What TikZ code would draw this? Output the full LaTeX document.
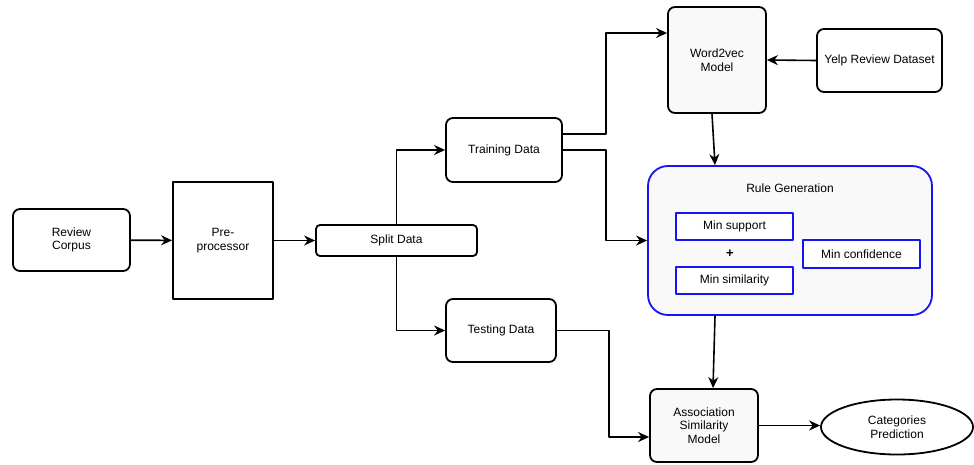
\documentclass[tikz,border=0pt]{standalone}
\usepackage{fontspec}
\setmainfont{Liberation Sans}
\usetikzlibrary{arrows.meta,shapes.geometric}
\definecolor{boxgray}{RGB}{249,249,249}
\definecolor{ruleblue}{RGB}{20,20,245}
\begin{document}
\begin{tikzpicture}[x=1pt,y=-1pt,line cap=round,line join=round,
  font=\fontsize{12}{13.5}\selectfont,
  box/.style={draw,line width=1.8pt,rounded corners=7pt,fill=white,inner sep=0pt,align=center},
  bluebox/.style={draw=ruleblue,line width=1.8pt,fill=white,inner sep=0pt,align=center,
    minimum width=117pt,minimum height=27pt},
  arr/.style={line width=1.6pt,-{Stealth[length=11pt,width=10pt]}}]
  \useasboundingbox (0,0) rectangle (974,464);

  % The input side: corpus, pre-processing and the split.
  \node[box,minimum width=117pt,minimum height=62pt] (corpus) at (71.5,240) {Review\\Corpus};
  \node[box,rounded corners=0pt,minimum width=100pt,minimum height=117pt] (prep) at (223,240.5) {Pre-\\processor};
  \node[box,rounded corners=4pt,minimum width=161pt,minimum height=31pt] (split) at (396.5,240.5) {Split Data};
  \node[box,minimum width=116pt,minimum height=64pt] (train) at (504,150) {Training Data};
  \node[box,minimum width=110pt,minimum height=63pt] (test) at (501,330.5) {Testing Data};

  % The embedding model and its outside dataset.
  \node[box,fill=boxgray,minimum width=98pt,minimum height=106pt] (w2v) at (717,60) {Word2vec\\Model};
  \node[box,minimum width=125pt,minimum height=63pt] (yelp) at (879.5,60.5) {Yelp Review Dataset};

  % The rule generation block with its three thresholds.
  \node[box,draw=ruleblue,fill=boxgray,rounded corners=20pt,minimum width=284pt,minimum height=149pt] (rule) at (790,240.5) {};
  \node (rulelabel) at (790,188) {Rule Generation};
  \node[bluebox] (minsup) at (734.5,226.5) {Min support};
  \node[bluebox] (minsim) at (734.5,280.5) {Min similarity};
  \node[bluebox,minimum height=28pt] (minconf) at (861.5,254) {Min confidence};
  \node[font=\bfseries\fontsize{13}{14}\selectfont] (plus) at (730,254) {+};

  % The model and its output.
  \node[box,fill=boxgray,minimum width=108pt,minimum height=73pt] (assoc) at (704,425.5) {Association\\Similarity\\Model};
  \node[draw,ellipse,line width=1.8pt,fill=white,inner sep=0pt,align=center,minimum width=152pt,minimum height=55pt] (pred) at (897,427) {Categories\\Prediction};

  % Connectors.
  \draw[arr] (corpus) -- (prep);
  \draw[arr] (prep) -- (split);
  \draw[arr] (split.north) |- (train.west);
  \draw[arr] (split.south) |- (test.west);
  \draw[arr] ([yshift=16pt]train.east) -- ++(43,0) |- ([yshift=27pt]w2v.west);
  \draw[arr] (train.east) -- ++(43,0) |- (rule.west);
  \draw[arr] (yelp.west) -- (w2v.east);
  \draw[arr] ([xshift=-5pt]w2v.south) -- ([xshift=-2pt]rule.north -| w2v.south);
  \draw[arr] ([xshift=11pt]rule.south -| assoc.north) -- ([xshift=9pt]assoc.north);
  \draw[arr] (test.east) -- ++(52,0) |- ([yshift=-11.5pt]assoc.west);
  \draw[arr] (assoc.east) -- (assoc.east -| pred.west);
\end{tikzpicture}
\end{document}
